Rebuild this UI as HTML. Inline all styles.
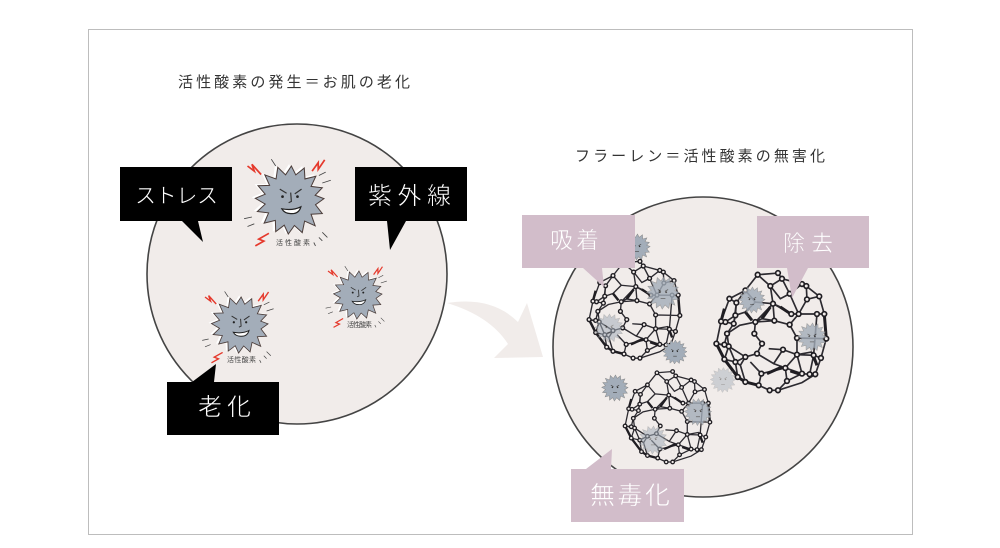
<!DOCTYPE html>
<html lang="ja"><head><meta charset="utf-8"><title>活性酸素とフラーレン</title>
<style>
html,body{margin:0;padding:0;background:#fff}
svg{display:block}
text{font-family:"Liberation Sans","Noto Sans CJK JP",sans-serif}
.t{fill:#333;font-size:15px}
.w{fill:#fff;stroke-width:.55px}
.b{stroke:#000}
.p{stroke:#d2bdca}
.s{fill:#444;font-size:7px}
</style></head><body>
<svg width="1000" height="548" viewBox="0 0 1000 548" xmlns="http://www.w3.org/2000/svg">
<defs>
<polygon id="star" points="100,-4 75,14 95,40 62,42 74,76 43,62 36,96 13,75 -5,100 -17,74 -42,93 -43,60 -76,68 -63,38 -96,34 -73,12 -102,-5 -73,-17 -94,-42 -60,-43 -74,-74 -41,-62 -36,-96 -13,-74 4,-100 17,-74 42,-94 44,-62 76,-70 62,-40 95,-36 74,-14"/>
<g id="angry">
<use href="#star" transform="translate(-7,-3)" fill="#fff" stroke="#fff" stroke-width="3"/>
<use href="#star" fill="#a3adb9" stroke="#4b3d3a" stroke-width="3"/>
<path d="M-30-32L-10-20M34-32L14-18M2-22L4 4L-4 8" fill="none" stroke="#333" stroke-width="3.5"/>
<circle cx="-22" cy="-10" r="4" fill="#222"/><circle cx="22" cy="-10" r="4" fill="#222"/>
<path d="M-24 26Q8 32 32 20Q26 42 2 40Q-16 40-24 26Z" fill="#fff" stroke="#222" stroke-width="3.5"/>
<path d="M-125-100L-105-85L-112-105L-85-75" fill="none" stroke="#e5392c" stroke-width="5"/>
<path d="M65-85L83-110L83-90L102-118" fill="none" stroke="#e5392c" stroke-width="5"/>
<path d="M-102 135L-77 121L-92 115L-62 98" fill="none" stroke="#e5392c" stroke-width="5"/>
<path d="M-55-120L-42-100M85-72L105-82M95-50L120-58M-135 55L-112 50M-125 78L-105 70M95 95L110 110M85 110L95 120M70 125L75 135" stroke="#444" stroke-width="2.5" fill="none"/>
</g>
<g id="mini">
<use href="#star" fill="#a3adb9" stroke="#8a8a8a" stroke-width="4"/>
<path d="M-32-22L-12-10M32-22L12-10M-15 35H15" stroke="#444" stroke-width="5" fill="none"/>
<circle cx="-20" cy="-5" r="6" fill="#333"/><circle cx="20" cy="-5" r="6" fill="#333"/>
</g>
<g id="ball">
<path fill="none" stroke="#2c2a30" stroke-width="5" d="M172 198L233 193L245 210L210 232L172 198L135 245L87 270L62 338L48 405L72 452L112 505L135 520L175 530L208 545L233 545L305 522L345 497L362 448L378 390L372 316L357 263L318 232L305 226L245 210M135 245L108 282L105 320L100 345L80 375L85 413L105 460L135 445L170 435L185 405L162 375L165 340L218 285L210 232M108 282L87 270M105 320L75 340L62 338M80 375L72 408L48 405M72 408L85 413M105 460L72 452M112 505L105 460M135 445L170 435L220 465L248 423M218 285L222 336L268 348L290 388L290 438L248 423M222 336L165 340M162 375L185 405M268 255L295 316L273 316L218 285M268 255L305 226M295 316L320 272L357 263M320 272L318 232M295 316L350 316L372 316M268 348L295 316M290 388L378 390M350 316L340 440L362 448M290 438L340 440M290 438L255 478L260 517L305 495L328 497L345 497M255 478L183 495L175 530M183 495L150 460M260 517L233 545M255 478L305 495M248 423L205 420M135 520L120 470M80 375L118 350L165 340M105 460L120 470L135 445M85 413L135 445M100 345L108 282M218 285L240 295L273 316M170 435L220 465L255 478M222 336L185 330L165 340M290 438L335 430M345 497L362 448M328 497L340 440M305 495L290 438M135 245L165 280L218 285M165 280L135 310L105 320M245 210L268 255M210 232L240 270L268 255M100 345L62 338M85 413L48 405M72 452L85 413"/>
<path fill="none" stroke="#1f1d22" stroke-width="9" d="M135 310L155 335M185 330L210 295M240 295L270 315M48 405L72 452L112 505L135 520L175 530M200 495L245 475M270 487L300 497M335 430L350 470M372 316L378 390M62 338L72 300"/>
<g fill="#f1ecea" stroke="#1f1d22" stroke-width="5">
<circle cx="172" cy="198" r="7"/><circle cx="233" cy="193" r="7"/><circle cx="245" cy="210" r="7"/><circle cx="210" cy="232" r="7"/><circle cx="268" cy="255" r="7"/><circle cx="305" cy="226" r="7"/><circle cx="318" cy="232" r="7"/><circle cx="357" cy="263" r="7"/><circle cx="320" cy="272" r="7"/><circle cx="295" cy="316" r="7"/><circle cx="273" cy="316" r="7"/><circle cx="350" cy="316" r="7"/><circle cx="372" cy="316" r="7"/><circle cx="268" cy="348" r="7"/><circle cx="222" cy="336" r="7"/><circle cx="218" cy="285" r="7"/><circle cx="165" cy="340" r="7"/><circle cx="162" cy="375" r="7"/><circle cx="185" cy="405" r="7"/><circle cx="170" cy="435" r="7"/><circle cx="135" cy="445" r="7"/><circle cx="105" cy="460" r="7"/><circle cx="85" cy="413" r="7"/><circle cx="72" cy="408" r="7"/><circle cx="48" cy="405" r="7"/><circle cx="80" cy="375" r="7"/><circle cx="100" cy="345" r="7"/><circle cx="75" cy="340" r="7"/><circle cx="62" cy="338" r="7"/><circle cx="108" cy="282" r="7"/><circle cx="87" cy="270" r="7"/><circle cx="135" cy="245" r="7"/><circle cx="290" cy="388" r="7"/><circle cx="378" cy="390" r="7"/><circle cx="248" cy="423" r="7"/><circle cx="290" cy="438" r="7"/><circle cx="340" cy="440" r="7"/><circle cx="362" cy="448" r="7"/><circle cx="255" cy="478" r="7"/><circle cx="183" cy="495" r="7"/><circle cx="175" cy="530" r="7"/><circle cx="208" cy="545" r="7"/><circle cx="233" cy="545" r="7"/><circle cx="260" cy="517" r="7"/><circle cx="305" cy="495" r="7"/><circle cx="328" cy="497" r="7"/><circle cx="345" cy="497" r="7"/><circle cx="135" cy="520" r="7"/><circle cx="112" cy="505" r="7"/><circle cx="72" cy="452" r="7"/><circle cx="105" cy="320" r="7"/>
</g>
</g>
</defs>

<rect x="88.5" y="29.5" width="824" height="505" fill="#fff" stroke="#bdbdbd"/>

<text class="t" x="178" y="87" textLength="232" lengthAdjust="spacing">活性酸素の発生＝お肌の老化</text>
<text class="t" x="575" y="161" textLength="250" lengthAdjust="spacing">フラーレン＝活性酸素の無害化</text>

<circle cx="297" cy="274" r="150" fill="#f1ecea" stroke="#444" stroke-width="1.6"/>
<circle cx="703" cy="347" r="150" fill="#f1ecea" stroke="#444" stroke-width="1.6"/>

<path d="M447 303Q492 296 518 322L527 303L543 357L494 358L508 344Q490 316 447 303Z" fill="#f1ecea"/>

<use href="#angry" transform="translate(290,200) scale(.34)"/>
<use href="#angry" transform="translate(240,325) scale(.28)"/>
<use href="#angry" transform="translate(358,295) scale(.24)"/>
<text class="s" x="276" y="245" textLength="34">活性酸素</text>
<text class="s" x="227" y="362" textLength="29">活性酸素</text>
<text class="s" x="347" y="327" textLength="25">活性酸素</text>

<path d="M120 167H232V221H198L203 242L182 221H120Z" fill="#000"/>
<path d="M355 167H467V221H406L390 250L387 221H355Z" fill="#000"/>
<path d="M167 382H192L216 364L214 382H279V435H167Z" fill="#000"/>
<text class="w b" x="135" y="203" textLength="83" font-size="21">ストレス</text>
<text class="w b" x="368" y="204" textLength="83" font-size="24">紫外線</text>
<text class="w b" x="198" y="415" textLength="53" font-size="24">老化</text>

<use href="#mini" transform="translate(637,247) scale(.13)"/>
<use href="#ball" transform="translate(635,310) scale(.275) translate(-215,-370)"/>
<use href="#ball" transform="translate(772,332) scale(.333) translate(-215,-370)"/>
<use href="#ball" transform="translate(668,417) scale(.257) translate(-215,-370)"/>

<use href="#mini" transform="translate(663,293) scale(.16)" opacity=".8"/>
<use href="#mini" transform="translate(609,328) scale(.14)" opacity=".55"/>
<use href="#mini" transform="translate(675,352) scale(.12)"/>
<use href="#mini" transform="translate(615,388) scale(.13)"/>
<use href="#mini" transform="translate(723,380) scale(.125)" opacity=".45"/>
<use href="#mini" transform="translate(752,300) scale(.13)" opacity=".85"/>
<use href="#mini" transform="translate(812,337) scale(.14)" opacity=".8"/>
<use href="#mini" transform="translate(698,412) scale(.135)" opacity=".8"/>
<use href="#mini" transform="translate(653,440) scale(.14)" opacity=".55"/>

<path d="M522 215H635V268H602L604 287L583 268H522Z" fill="#d2bdca"/>
<path d="M757 216H869V268H808L792 298L787 268H757Z" fill="#d2bdca"/>
<path d="M571 469H586L612 449L611 469H684V522H571Z" fill="#d2bdca"/>
<text class="w p" x="550" y="248" textLength="49" font-size="23">吸着</text>
<text class="w p" x="783" y="251" textLength="50" font-size="22">除去</text>
<text class="w p" x="590" y="504" textLength="80" font-size="25">無毒化</text>
</svg>
</body></html>
